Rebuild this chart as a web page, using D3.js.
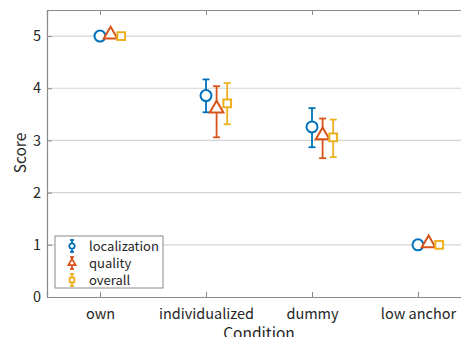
<!DOCTYPE html>
<html>
<head lang="en">
    <meta charset="UTF-8">
    <title>Score by condition</title>
    <script type="text/javascript" src="https://cdn.jsdelivr.net/npm/d3@7/dist/d3.min.js"></script>
    <style>
        body { margin: 0; background: #fff; }
        svg { font-family: "Noto Sans CJK JP", "Noto Sans", sans-serif; }
    </style>
</head>
<body>
<svg width="461" height="337"></svg>

<script>
    var conditions = ["own", "individualized", "dummy", "low anchor"];
    var seriesNames = ["localization", "quality", "overall"];
    var colors = ["#0072BD", "#D95319", "#EDB120"];
    var shapes = ["circle", "triangle", "square"];

    // mean, lower and upper end of the error bar, per condition
    var localizationMean = [5, 3.86, 3.26, 1];
    var localizationLow = [5, 3.54, 2.87, 1];
    var localizationHigh = [5, 4.17, 3.62, 1];

    var qualityMean = [5, 3.58, 3.07, 1];
    var qualityLow = [5, 3.06, 2.66, 1];
    var qualityHigh = [5, 4.04, 3.42, 1];

    var overallMean = [5, 3.71, 3.06, 1];
    var overallLow = [5, 3.31, 2.68, 1];
    var overallHigh = [5, 4.10, 3.40, 1];

    var yTicks = [0, 1, 2, 3, 4, 5];

    var means = [localizationMean, qualityMean, overallMean];
    var lows = [localizationLow, qualityLow, overallLow];
    var highs = [localizationHigh, qualityHigh, overallHigh];

    var svg = d3.select("svg");
    var pLeft = 47, pTop = 10, pBottom = 297, pRight = 471;

    var x = d3.scaleLinear().domain([0.5, 4.5]).range([pLeft, pRight]);
    var y = d3.scaleLinear().domain([0, 5.5]).range([pBottom, pTop]);

    // grid
    svg.append("g").selectAll("line").data(yTicks.slice(1)).enter().append("line")
            .attr("x1", pLeft).attr("x2", pRight)
            .attr("y1", function (d) { return y(d); })
            .attr("y2", function (d) { return y(d); })
            .attr("stroke", "#d4d4d4").attr("stroke-width", 1.2);

    // axes (MATLAB style, ticks inward)
    var yAxis = d3.axisLeft(y).tickValues(yTicks).tickFormat(d3.format("d"))
            .tickSize(-5).tickPadding(6);
    var xAxis = d3.axisBottom(x).tickValues([1, 2, 3, 4])
            .tickFormat(function (d) { return conditions[d - 1]; })
            .tickSize(-5).tickPadding(12);
    var xTop = d3.axisTop(x).tickValues([1, 2, 3, 4]).tickFormat("").tickSize(-5);

    var gy = svg.append("g").attr("transform", "translate(" + pLeft + ",0)").call(yAxis);
    var gx = svg.append("g").attr("transform", "translate(0," + pBottom + ")").call(xAxis);
    var gt = svg.append("g").attr("transform", "translate(0," + pTop + ")").call(xTop);
    [gy, gx, gt].forEach(function (g) {
        g.select(".domain").attr("stroke", "#8a8a8a").attr("stroke-width", 1.2);
        g.selectAll(".tick line").attr("stroke", "#8a8a8a");
        g.selectAll("text").attr("fill", "#262626").style("font-size", "14.5px")
                .style("font-family", '"Noto Sans CJK JP", "Noto Sans", sans-serif');
    });

    svg.append("text").attr("x", 259).attr("y", 339)
            .attr("text-anchor", "middle").attr("fill", "#262626")
            .style("font-size", "15.5px").text("Condition");
    svg.append("text").attr("transform", "translate(26,153) rotate(-90)")
            .attr("text-anchor", "middle").attr("fill", "#262626")
            .style("font-size", "15.5px").text("Score");

    var sym = {
        circle: d3.symbol().type(d3.symbolCircle).size(95),
        triangle: d3.symbol().type(d3.symbolTriangle).size(80),
        square: d3.symbol().type(d3.symbolSquare).size(60)
    };

    var capW = 3.5;
    seriesNames.forEach(function (name, s) {
        var g = svg.append("g");
        var pts = conditions.map(function (c, i) {
            return {x: i + 1 + s * 0.1, m: means[s][i], lo: lows[s][i], hi: highs[s][i]};
        });
        var bars = g.selectAll("g.eb").data(pts.filter(function (d) { return d.hi > d.lo; }))
                .enter().append("g").attr("stroke", colors[s]).attr("stroke-width", 1.8);
        bars.append("line")
                .attr("x1", function (d) { return x(d.x); }).attr("x2", function (d) { return x(d.x); })
                .attr("y1", function (d) { return y(d.lo); }).attr("y2", function (d) { return y(d.hi); });
        bars.append("line")
                .attr("x1", function (d) { return x(d.x) - capW; }).attr("x2", function (d) { return x(d.x) + capW; })
                .attr("y1", function (d) { return y(d.lo); }).attr("y2", function (d) { return y(d.lo); });
        bars.append("line")
                .attr("x1", function (d) { return x(d.x) - capW; }).attr("x2", function (d) { return x(d.x) + capW; })
                .attr("y1", function (d) { return y(d.hi); }).attr("y2", function (d) { return y(d.hi); });
        g.selectAll("path").data(pts).enter().append("path")
                .attr("d", sym[shapes[s]])
                .attr("transform", function (d) {
                    var dy = shapes[s] === "triangle" ? -1.5 : 0;
                    return "translate(" + x(d.x) + "," + (y(d.m) + dy) + ")";
                })
                .attr("fill", "#fff").attr("stroke", colors[s]).attr("stroke-width", 2);
    });

    // legend
    var lg = svg.append("g").attr("transform", "translate(55,236)");
    lg.append("rect").attr("width", 108).attr("height", 52)
            .attr("fill", "#fff").attr("stroke", "#8a8a8a").attr("stroke-width", 1);
    seriesNames.forEach(function (name, s) {
        var cy = 10 + s * 17;
        var e = lg.append("g").attr("stroke", colors[s]).attr("stroke-width", 1.8);
        e.append("line").attr("x1", 17).attr("x2", 17).attr("y1", cy - 6).attr("y2", cy + 6);
        e.append("line").attr("x1", 15).attr("x2", 19).attr("y1", cy - 6).attr("y2", cy - 6);
        e.append("line").attr("x1", 15).attr("x2", 19).attr("y1", cy + 6).attr("y2", cy + 6);
        e.append("path").attr("d", d3.symbol().type(
                [d3.symbolCircle, d3.symbolTriangle, d3.symbolSquare][s]).size(22))
                .attr("transform", "translate(17," + cy + ")")
                .attr("fill", "#fff");
        lg.append("text").attr("x", 34).attr("y", cy + 5).attr("fill", "#262626")
                .style("font-size", "13px").text(name);
    });
</script>
</body>
</html>
